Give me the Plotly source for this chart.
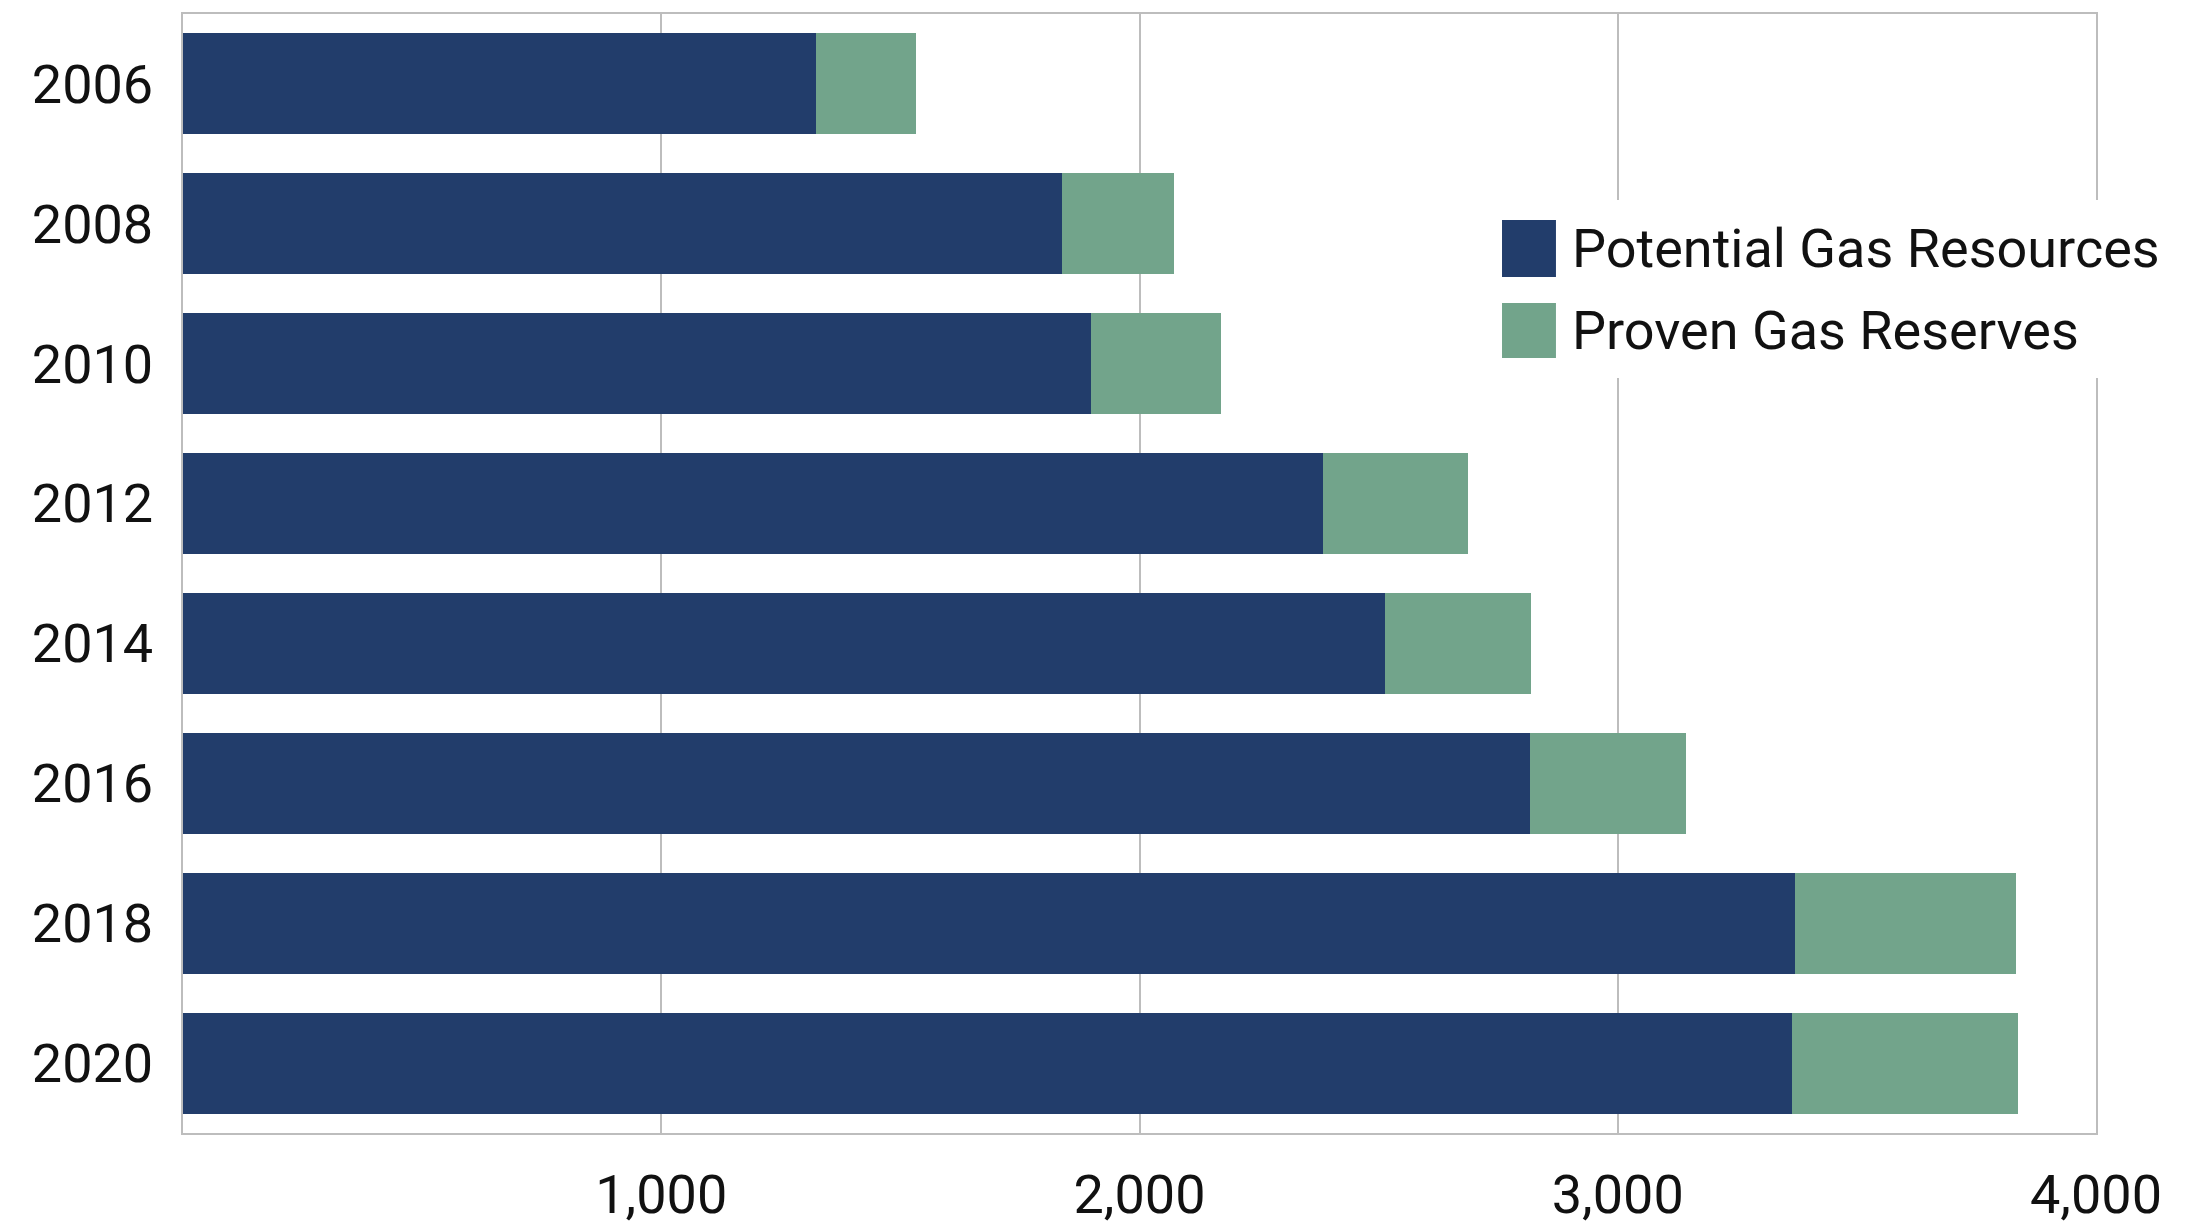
import plotly.graph_objects as go

# U.S. natural gas: potential resources and proven reserves (Tcf)
years = ["2006", "2008", "2010", "2012", "2014", "2016", "2018", "2020"]
potential_resources = [1324, 1837, 1898, 2384, 2514, 2816, 3370, 3365]
proven_reserves = [208, 236, 273, 303, 304, 326, 463, 472]
x_ticks = [1000, 2000, 3000, 4000]
x_tick_labels = ["1,000", "2,000", "3,000", "4,000"]

NAVY = "#223D6B"
GREEN = "#72A48B"
GRID = "#BDBDBD"
FONT = "Roboto"
FSIZE = 54

fig = go.Figure()
fig.add_trace(go.Bar(
    y=years, x=potential_resources, orientation="h",
    name="Potential Gas Resources", marker=dict(color=NAVY, line=dict(width=0)),
    showlegend=False,
))
fig.add_trace(go.Bar(
    y=years, x=proven_reserves, orientation="h",
    name="Proven Gas Reserves", marker=dict(color=GREEN, line=dict(width=0)),
    showlegend=False,
))

# Legend drawn as large swatches on a white panel
legend_items = [("Potential Gas Resources", NAVY, 0.8159, 0.7650),
                ("Proven Gas Reserves", GREEN, 0.7417, 0.6926)]
shapes = [dict(type="rect", xref="paper", yref="paper", x0=0.6858, x1=1.0439,
               y0=0.6747, y1=0.8338, fillcolor="white", line=dict(width=0),
               layer="above")]
annotations = []
for label, color, y_top, y_bot in legend_items:
    shapes.append(dict(type="rect", xref="paper", yref="paper", x0=0.6895, x1=0.7177,
                       y0=y_bot, y1=y_top, fillcolor=color, line=dict(width=0),
                       layer="above"))
    annotations.append(dict(text=label, xref="paper", yref="paper", x=0.7250,
                            y=(y_top + y_bot) / 2, xanchor="left", yanchor="middle",
                            showarrow=False, font=dict(family=FONT, size=FSIZE, color="#111111")))

fig.update_layout(
    width=2206, height=1227,
    margin=dict(l=183, r=110, t=14, b=94, autoexpand=False),
    paper_bgcolor="white", plot_bgcolor="white",
    barmode="stack", bargap=0.278,
    font=dict(family=FONT, size=FSIZE, color="#111111"),
    shapes=shapes, annotations=annotations,
    showlegend=False,
)
fig.update_xaxes(
    range=[0, 4000], tickvals=x_ticks, ticktext=x_tick_labels,
    showgrid=True, gridcolor=GRID, gridwidth=1.5, zeroline=False,
    showline=True, linecolor=GRID, linewidth=2, mirror=True,
    ticks="", ticklabelstandoff=13, automargin=False,
)
fig.update_yaxes(
    type="category", categoryorder="array", categoryarray=years,
    autorange="reversed", showgrid=False, zeroline=False,
    showline=True, linecolor=GRID, linewidth=2, mirror=True,
    ticks="", ticklabelstandoff=17, automargin=False,
)

fig.write_html("out.html")
